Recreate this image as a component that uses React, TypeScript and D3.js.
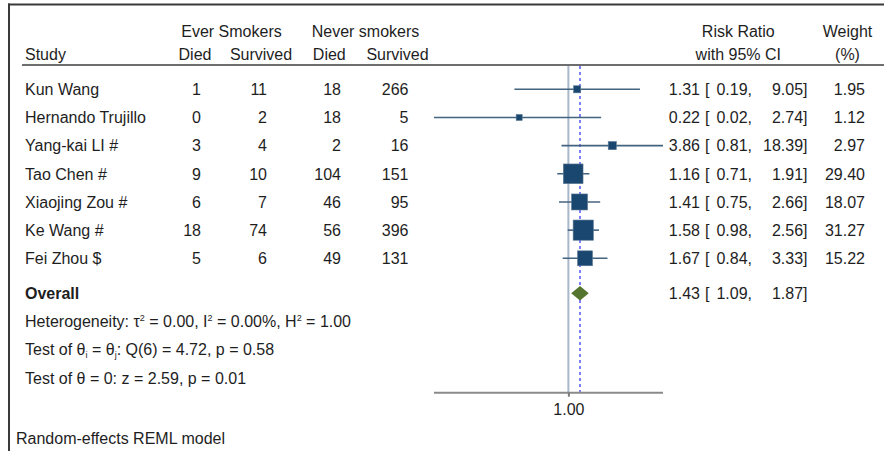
import { useEffect, useRef } from "react";
import * as d3 from "d3";

const studies = [
  "Kun Wang",
  "Hernando Trujillo",
  "Yang-kai LI #",
  "Tao Chen #",
  "Xiaojing Zou #",
  "Ke Wang #",
  "Fei Zhou $",
];
const everDied = [1, 0, 3, 9, 6, 18, 5];
const everSurvived = [11, 2, 4, 10, 7, 74, 6];
const neverDied = [18, 18, 2, 104, 46, 56, 49];
const neverSurvived = [266, 5, 16, 151, 95, 396, 131];
const riskRatio = [1.31, 0.22, 3.86, 1.16, 1.41, 1.58, 1.67];
const ciLower = [0.19, 0.016, 0.81, 0.71, 0.75, 0.98, 0.84];
const ciUpper = [9.05, 2.74, 18.39, 1.91, 2.66, 2.56, 3.33];
const weights = [1.95, 1.12, 2.97, 29.4, 18.07, 31.27, 15.22];

const overallRR = 1.43;
const overallLower = 1.09;
const overallUpper = 1.87;

const axisTicks = [1];

const WIDTH = 884;
const HEIGHT = 451;
const FONT = "'Liberation Sans', Arial, sans-serif";
const TEXT = "#1e1e1e";
const NAVY = "#1a476f";

export default function App() {
  const svgRef = useRef<SVGSVGElement>(null);

  useEffect(() => {
    if (!svgRef.current) return;
    const svg = d3.select(svgRef.current);
    svg.selectAll("*").remove();

    const fs = 16;
    const base = fs * 0.36; // shift from row centre to text baseline

    // scales
    const xScale = d3.scaleLog().domain([0.016, 18.39]).range([434, 663]);
    const yScale = d3.scalePoint<string>().domain(studies).range([89.3, 258.3]);
    const overallY = 293.3;
    const sizeScale = d3
      .scaleLinear()
      .domain([0, Math.sqrt(d3.max(weights) ?? 1)])
      .range([2.7, 20.2]);

    const g = svg.append("g").attr("font-family", FONT).attr("font-size", fs);

    // frame
    g.append("line")
      .attr("x1", 8).attr("x2", WIDTH).attr("y1", 4.5).attr("y2", 4.5)
      .attr("stroke", "#3a3a3a").attr("stroke-width", 2);
    g.append("line")
      .attr("x1", 9).attr("x2", 9).attr("y1", 3.5).attr("y2", HEIGHT)
      .attr("stroke", "#3a3a3a").attr("stroke-width", 2);

    // header
    const header = (txt: string, x: number, y: number, anchor = "middle") =>
      g.append("text")
        .attr("x", x).attr("y", y)
        .attr("text-anchor", anchor)
        .attr("fill", TEXT)
        .text(txt);

    header("Ever Smokers", 231.5, 36.5);
    header("Never smokers", 365.5, 36.5);
    header("Study", 25, 59.5, "start");
    header("Died", 195, 59.5);
    header("Survived", 261, 59.5);
    header("Died", 329.3, 59.5);
    header("Survived", 397.5, 59.5);
    header("Risk Ratio", 738.3, 36.5);
    header("with 95% CI", 738.3, 59.5);
    header("Weight", 847.5, 36.5);
    header("(%)", 847.5, 59.5);

    g.append("line")
      .attr("x1", 22).attr("x2", WIDTH).attr("y1", 65).attr("y2", 65)
      .attr("stroke", "#6e6e6e").attr("stroke-width", 2.2);

    // null line + overall reference line
    const axisY = 392.7;
    g.append("line")
      .attr("x1", xScale(1)).attr("x2", xScale(1))
      .attr("y1", 66).attr("y2", axisY)
      .attr("stroke", "#a9b8c8").attr("stroke-width", 2);
    g.append("line")
      .attr("x1", xScale(overallRR)).attr("x2", xScale(overallRR))
      .attr("y1", 66).attr("y2", axisY)
      .attr("stroke", "#2b2bf5").attr("stroke-width", 1.2)
      .attr("stroke-dasharray", "3,3");

    // axis
    const axis = g.append("g")
      .attr("transform", `translate(0,${axisY})`)
      .call(
        d3.axisBottom(xScale)
          .tickValues(axisTicks)
          .tickFormat((d) => d3.format(".2f")(d as number))
          .tickSize(4)
          .tickPadding(7)
      );
    axis.select(".domain")
      .attr("d", `M${xScale.range()[0]},0H${xScale.range()[1]}`)
      .attr("stroke", "#8a8a8a").attr("stroke-width", 2);
    axis.selectAll(".tick line").attr("stroke", "#7a7a7a").attr("stroke-width", 2);
    axis.selectAll(".tick text")
      .attr("fill", TEXT)
      .attr("font-size", fs)
      .attr("font-family", FONT);

    // study rows
    const rows = g.selectAll(".row")
      .data(studies)
      .enter()
      .append("g")
      .attr("class", "row")
      .attr("transform", (d) => `translate(0,${yScale(d)})`);

    const cell = (x: number, anchor: string, fn: (i: number) => string) =>
      rows.append("text")
        .attr("x", x).attr("y", base)
        .attr("text-anchor", anchor)
        .attr("fill", TEXT)
        .text((_, i) => fn(i));

    cell(25, "start", (i) => studies[i]);
    cell(201, "end", (i) => String(everDied[i]));
    cell(267, "end", (i) => String(everSurvived[i]));
    cell(341, "end", (i) => String(neverDied[i]));
    cell(408.5, "end", (i) => String(neverSurvived[i]));
    cell(700, "end", (i) => riskRatio[i].toFixed(2));
    cell(705, "start", () => "[");
    cell(752, "end", (i) => ciLower[i].toFixed(2) + ",");
    cell(807.5, "end", (i) => ciUpper[i].toFixed(2) + "]");
    cell(865, "end", (i) => weights[i].toFixed(2));

    // confidence intervals
    rows.append("line")
      .attr("x1", (_, i) => xScale(ciLower[i]))
      .attr("x2", (_, i) => xScale(ciUpper[i]))
      .attr("y1", 0).attr("y2", 0)
      .attr("stroke", "#44637f").attr("stroke-width", 1.6);

    // weight boxes
    rows.append("rect")
      .attr("x", (_, i) => xScale(riskRatio[i]) - sizeScale(Math.sqrt(weights[i])) / 2)
      .attr("y", (_, i) => -sizeScale(Math.sqrt(weights[i])) / 2)
      .attr("width", (_, i) => sizeScale(Math.sqrt(weights[i])))
      .attr("height", (_, i) => sizeScale(Math.sqrt(weights[i])))
      .attr("fill", NAVY)
      .attr("stroke", "#5a7893")
      .attr("stroke-width", 0.6);

    // overall row
    g.append("text")
      .attr("x", 25).attr("y", overallY + base)
      .attr("fill", TEXT).attr("font-weight", "bold")
      .text("Overall");
    const ov = [
      { x: 700, a: "end", t: overallRR.toFixed(2) },
      { x: 705, a: "start", t: "[" },
      { x: 752, a: "end", t: overallLower.toFixed(2) + "," },
      { x: 807.5, a: "end", t: overallUpper.toFixed(2) + "]" },
    ];
    ov.forEach((o) =>
      g.append("text")
        .attr("x", o.x).attr("y", overallY + base)
        .attr("text-anchor", o.a)
        .attr("fill", TEXT)
        .text(o.t)
    );
    const dh = 7.2;
    g.append("path")
      .attr(
        "d",
        `M${xScale(overallLower)},${overallY}L${xScale(overallRR)},${overallY - dh}` +
          `L${xScale(overallUpper)},${overallY}L${xScale(overallRR)},${overallY + dh}Z`
      )
      .attr("fill", "#55752f");

    // heterogeneity / tests
    const het = g.append("text")
      .attr("x", 25).attr("y", 321.7 + base).attr("fill", TEXT);
    het.append("tspan").text("Heterogeneity: τ");
    het.append("tspan").attr("font-size", 9).attr("dy", -6).text("2");
    het.append("tspan").attr("dy", 6).text(" = 0.00, I");
    het.append("tspan").attr("font-size", 9).attr("dy", -6).text("2");
    het.append("tspan").attr("dy", 6).text(" = 0.00%, H");
    het.append("tspan").attr("font-size", 9).attr("dy", -6).text("2");
    het.append("tspan").attr("dy", 6).text(" = 1.00");

    const q = g.append("text")
      .attr("x", 25).attr("y", 349.5 + base).attr("fill", TEXT);
    q.append("tspan").text("Test of θ");
    q.append("tspan").attr("font-size", 9).attr("dy", 3).text("i");
    q.append("tspan").attr("dy", -3).text(" = θ");
    q.append("tspan").attr("font-size", 9).attr("dy", 3).text("j");
    q.append("tspan").attr("dy", -3).text(": Q(6) = 4.72, p = 0.58");

    g.append("text")
      .attr("x", 25).attr("y", 378.3 + base).attr("fill", TEXT)
      .text("Test of θ = 0: z = 2.59, p = 0.01");

    g.append("text")
      .attr("x", 16).attr("y", 438.3 + base).attr("fill", TEXT)
      .text("Random-effects REML model");

    return () => {
      svg.selectAll("*").remove();
    };
  }, []);

  return (
    <svg
      ref={svgRef}
      width={WIDTH}
      height={HEIGHT}
      style={{ position: "absolute", left: 0, top: 0, background: "#fff" }}
    />
  );
}
